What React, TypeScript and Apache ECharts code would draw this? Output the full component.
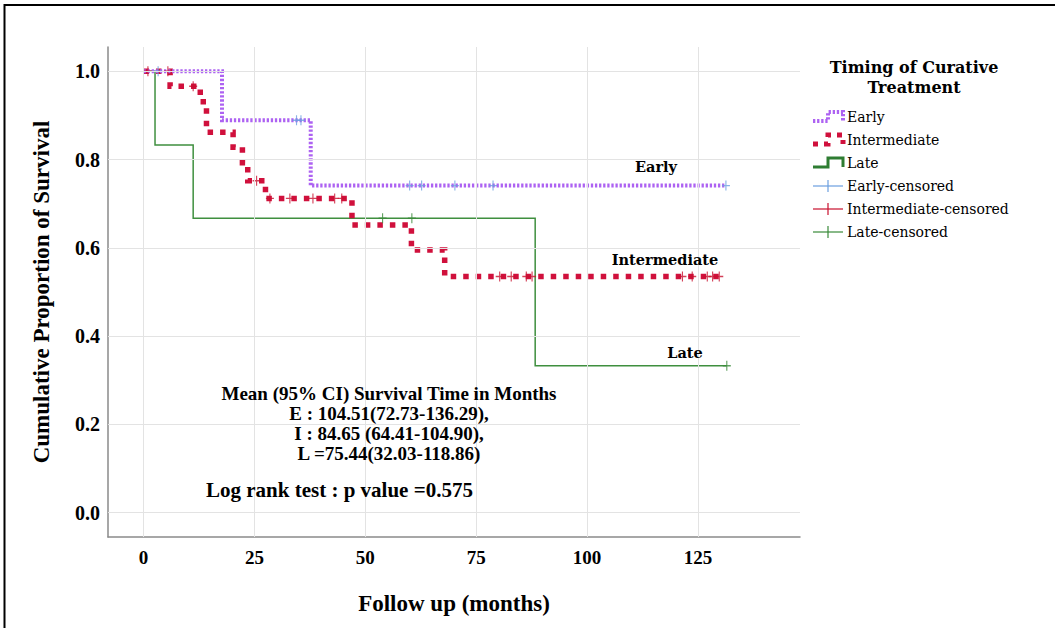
import React, { useEffect, useRef } from "react";
import * as echarts from "echarts";

const xTicks = [0, 25, 50, 75, 100, 125];
const yTicks = [0, 0.2, 0.4, 0.6, 0.8, 1.0];

const earlyTimes = [0, 17.7, 37.7, 131.3];
const earlySurv = [1, 0.889, 0.741, 0.741];
const earlyCensored = [3.3, 34.5, 35.5, 60.0, 62.7, 70.2, 78.8, 131.3];

const intermediateTimes = [0, 6.0, 12.8, 14.2, 20.2, 22.3, 23.5, 27.5, 47.0, 60.4, 67.9, 129.8];
const intermediateSurv = [1, 0.966, 0.931, 0.862, 0.828, 0.793, 0.752, 0.712, 0.652, 0.595, 0.535, 0.535];
const intermediateCensored = [1.0, 5.5, 11.2, 25.5, 28.5, 33.0, 38.2, 43.1, 44.7, 80.3, 82.9, 86.3, 87.6, 121.5, 123.7, 127.1, 128.3, 129.8];

const lateTimes = [0, 2.6, 11.2, 88.3, 131.5];
const lateSurv = [1, 0.833, 0.667, 0.333, 0.333];
const lateCensored = [53.9, 60.5, 131.5];

const annotationLines = [
  "Mean (95% CI) Survival Time in Months",
  "E : 104.51(72.73-136.29),",
  "I : 84.65 (64.41-104.90),",
  "L =75.44(32.03-118.86)",
];
const logRankText = "Log rank test : p value =0.575";

const legendTitle = ["Timing of Curative", "Treatment"];
const legendItems = ["Early", "Intermediate", "Late", "Early-censored", "Intermediate-censored", "Late-censored"];

const COL_EARLY = "#ad62f2";
const COL_INTER = "#d0103c";
const COL_LATE = "#3f8f3f";
const COL_EARLY_C = "#6c9fe0";
const COL_INTER_C = "#c8102e";
const COL_LATE_C = "#3a8a3a";

const SERIF = "'Liberation Serif', 'Times New Roman', serif";
const DSERIF = "'DejaVu Serif', serif";

function stepAt(times: number[], surv: number[], t: number) {
  let v = surv[0];
  for (let i = 0; i < times.length; i++) if (times[i] <= t) v = surv[i];
  return v;
}

const crossSymbol = "path://M4.3,0h1.4v10h-1.4z M0,4.3h10v1.4h-10z";

export default function App() {
  const ref = useRef<HTMLDivElement>(null);
  useEffect(() => {
    if (!ref.current) return;
    const chart = echarts.init(ref.current, null, { renderer: "svg" });

    const curve = (name: string, times: number[], surv: number[], color: string, width: number, dash: any) => ({
      name,
      type: "line",
      step: "end",
      showSymbol: false,
      symbol: "none",
      data: times.map((t, i) => [t, surv[i]]),
      lineStyle: { color, width, type: dash, cap: "butt", join: "miter" },
      z: 3,
      silent: true,
    });
    const cens = (name: string, times: number[], surv: number[], cts: number[], color: string) => ({
      name,
      type: "scatter",
      symbol: crossSymbol,
      symbolSize: [8, 10],
      data: cts.map((t) => [t, stepAt(times, surv, t)]),
      itemStyle: { color },
      z: 4,
      silent: true,
    });

    const graphics: any[] = [];
    graphics.push({
      type: "rect",
      shape: { x: 4.5, y: 5, width: 1100, height: 700 },
      style: { fill: "none", stroke: "#000", lineWidth: 2 },
      silent: true,
    });
    const lbl = (text: string, x: number, y: number) => ({
      type: "text",
      x,
      y,
      style: { text, fontFamily: DSERIF, fontWeight: "bold", fontSize: 14.5, fill: "#000", align: "center", verticalAlign: "middle" },
      z: 10,
    });
    graphics.push(lbl("Early", 656, 166));
    graphics.push(lbl("Intermediate", 665, 259));
    graphics.push(lbl("Late", 685, 352));
    annotationLines.forEach((t, i) => {
      graphics.push({
        type: "text",
        x: 389,
        y: 393 + i * 20,
        style: { text: t, fontFamily: SERIF, fontWeight: "bold", fontSize: 19, fill: "#000", align: "center", verticalAlign: "middle" },
        z: 10,
      });
    });
    graphics.push({
      type: "text",
      x: 206,
      y: 490,
      style: { text: logRankText, fontFamily: SERIF, fontWeight: "bold", fontSize: 21, fill: "#000", align: "left", verticalAlign: "middle" },
      z: 10,
    });
    legendTitle.forEach((t, i) => {
      graphics.push({
        type: "text",
        x: 914,
        y: 67 + i * 20,
        style: { text: t, fontFamily: DSERIF, fontWeight: "bold", fontSize: 16, fill: "#000", align: "center", verticalAlign: "middle" },
      });
    });
    const rowY = [117, 140, 163, 186, 209, 232];
    legendItems.forEach((t, i) => {
      graphics.push({
        type: "text",
        x: 847,
        y: rowY[i],
        style: { text: t, fontFamily: DSERIF, fontSize: 14, fill: "#000", align: "left", verticalAlign: "middle" },
      });
    });
    const stepPts = (y: number) => [
      [813, y + 4],
      [828, y + 4],
      [828, y - 5],
      [843, y - 5],
      [843, y + 4],
    ];
    graphics.push({ type: "polyline", shape: { points: stepPts(rowY[0]) }, style: { stroke: COL_EARLY, lineWidth: 4, lineDash: [2.3, 1.8], fill: null } });
    graphics.push({ type: "polyline", shape: { points: stepPts(rowY[1]) }, style: { stroke: COL_INTER, lineWidth: 5, lineDash: [5, 6], fill: null } });
    graphics.push({ type: "polyline", shape: { points: stepPts(rowY[2]) }, style: { stroke: "#2e7d32", lineWidth: 3, fill: null } });
    [COL_EARLY_C, COL_INTER_C, COL_LATE_C].forEach((c, k) => {
      const y = rowY[3 + k];
      graphics.push({ type: "line", shape: { x1: 813, y1: y, x2: 843, y2: y }, style: { stroke: c, lineWidth: 1.2 } });
      graphics.push({ type: "line", shape: { x1: 828, y1: y - 6, x2: 828, y2: y + 6 }, style: { stroke: c, lineWidth: 1.2 } });
    });

    chart.setOption({
      animation: false,
      grid: { left: 108, top: 47, right: 255, bottom: 91, containLabel: false },
      xAxis: {
        type: "value",
        min: -8,
        max: 148,
        axisLine: { show: true, onZero: false, lineStyle: { color: "#8a8a8a", width: 1.5 } },
        axisTick: { show: false },
        splitLine: { show: false },
        axisLabel: {
          customValues: xTicks,
          color: "#000",
          fontFamily: SERIF,
          fontWeight: "bold",
          fontSize: 19,
          margin: 11,
        },
        name: "Follow up (months)",
        nameLocation: "middle",
        nameGap: 55,
        nameTextStyle: { color: "#000", fontFamily: SERIF, fontWeight: "bold", fontSize: 23 },
      },
      yAxis: {
        type: "value",
        min: -0.055,
        max: 1.055,
        axisLine: { show: true, onZero: false, lineStyle: { color: "#8a8a8a", width: 1.5 } },
        axisTick: { show: false },
        splitLine: { show: false },
        axisLabel: {
          customValues: yTicks,
          formatter: (v: number) => v.toFixed(1),
          color: "#000",
          fontFamily: SERIF,
          fontWeight: "bold",
          fontSize: 20,
          margin: 8,
        },
        name: "Cumulative Proportion of Survival",
        nameLocation: "middle",
        nameRotate: 90,
        nameGap: 55,
        nameTextStyle: { color: "#000", fontFamily: SERIF, fontWeight: "bold", fontSize: 23 },
      },
      series: [
        {
          name: "grid",
          type: "line",
          data: [],
          z: 1,
          silent: true,
          markLine: {
            silent: true,
            symbol: ["none", "none"],
            label: { show: false },
            lineStyle: { color: "#e3e3e3", type: "solid", width: 1 },
            data: [...xTicks.map((v) => ({ xAxis: v })), ...yTicks.map((v) => ({ yAxis: v }))],
          },
        },
        curve("Late", lateTimes, lateSurv, COL_LATE, 1.5, "solid"),
        curve("Intermediate", intermediateTimes, intermediateSurv, COL_INTER, 5.5, [5.5, 7]),
        curve("Early", earlyTimes, earlySurv, COL_EARLY, 4, [2.3, 1.8]),
        cens("Early-censored", earlyTimes, earlySurv, earlyCensored, COL_EARLY_C),
        cens("Intermediate-censored", intermediateTimes, intermediateSurv, intermediateCensored, COL_INTER_C),
        cens("Late-censored", lateTimes, lateSurv, lateCensored, COL_LATE_C),
      ],
      graphic: graphics,
    });
    return () => chart.dispose();
  }, []);
  return <div ref={ref} style={{ position: "fixed", left: 0, top: 0, width: 1055, height: 628, background: "#fff" }} />;
}
